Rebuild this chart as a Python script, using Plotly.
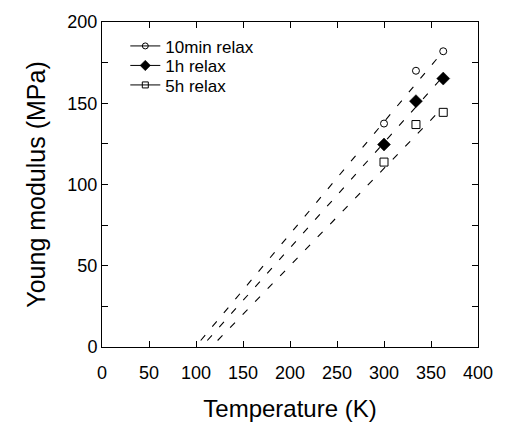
import plotly.graph_objects as go

# ---- data ----
temps = [300, 334, 363]
E_10min = [137.5, 170, 182]
E_1h = [124.6, 151.3, 165.2]
E_5h = [113.8, 136.9, 144.4]

# dashed fit lines (end points)
fit_10min_T = [105, 363]
fit_10min_E = [4, 182]
fit_1h_T = [112, 359]
fit_1h_E = [4, 164]
fit_5h_T = [123, 357]
fit_5h_E = [4, 144]

names = ["10min relax", "1h relax", "5h relax"]
x_ticks = [0, 50, 100, 150, 200, 250, 300, 350, 400]
y_ticks = [0, 50, 100, 150, 200]

FONT = "Liberation Sans, Arial, sans-serif"

fig = go.Figure()

dash = "7px,11px"
for T, E in [(fit_10min_T, fit_10min_E), (fit_1h_T, fit_1h_E), (fit_5h_T, fit_5h_E)]:
    fig.add_trace(go.Scatter(x=T, y=E, mode="lines", showlegend=False,
                             line=dict(color="black", width=1.1, dash=dash),
                             hoverinfo="skip"))

markers = [
    dict(symbol="circle-open", size=7, color="black", line=dict(width=1, color="black")),
    dict(symbol="diamond", size=10, color="black", line=dict(width=0.5, color="black")),
    dict(symbol="square-open", size=8, color="black", line=dict(width=1, color="black")),
]
legend_markers = [
    dict(symbol="circle-open", size=6, color="black", line=dict(width=1, color="black")),
    dict(symbol="diamond", size=8, color="black", line=dict(width=0.5, color="black")),
    dict(symbol="square-open", size=6, color="black", line=dict(width=1, color="black")),
]
legend_ids = ["legend", "legend2", "legend3"]
for name, E, mk, lmk, lid in zip(names, [E_10min, E_1h, E_5h], markers, legend_markers, legend_ids):
    fig.add_trace(go.Scatter(x=temps, y=E, mode="markers", marker=mk, showlegend=False, name=name))
    fig.add_trace(go.Scatter(x=[None], y=[None], mode="lines+markers", marker=lmk, name=name,
                             legend=lid, line=dict(color="black", width=1)))

axis_common = dict(
    showline=True, linecolor="black", linewidth=1, mirror="ticks",
    ticks="inside", ticklen=6, tickwidth=1, tickcolor="black",
    showgrid=False, zeroline=False,
    tickfont=dict(family=FONT, size=18, color="black"),
)

fig.update_xaxes(range=[0, 400], tickvals=x_ticks, ticktext=[str(v) for v in x_ticks],
                 ticklabelstandoff=9,
                 title=dict(text="Temperature (K)", font=dict(family=FONT, size=24, color="black"), standoff=18),
                 **axis_common)
fig.update_yaxes(range=[0, 200], tickvals=y_ticks, ticktext=[str(v) for v in y_ticks],
                 minor=dict(dtick=25, tick0=0, ticks="inside", ticklen=6, tickcolor="black"),
                 title=dict(text="Young modulus (MPa)", font=dict(family=FONT, size=25, color="black"), standoff=14),
                 **axis_common)

legend_style = dict(x=0.062, xanchor="left", yanchor="middle", bgcolor="rgba(0,0,0,0)",
                    font=dict(family=FONT, size=17, color="black"), itemwidth=30)
fig.update_layout(
    width=505, height=429,
    margin=dict(l=102, r=26, t=13, b=79),
    paper_bgcolor="white", plot_bgcolor="white",
    font=dict(family=FONT, color="black"),
    legend=dict(y=0.925, **legend_style),
    legend2=dict(y=0.865, **legend_style),
    legend3=dict(y=0.805, **legend_style),
)

fig.write_html("out.html")
